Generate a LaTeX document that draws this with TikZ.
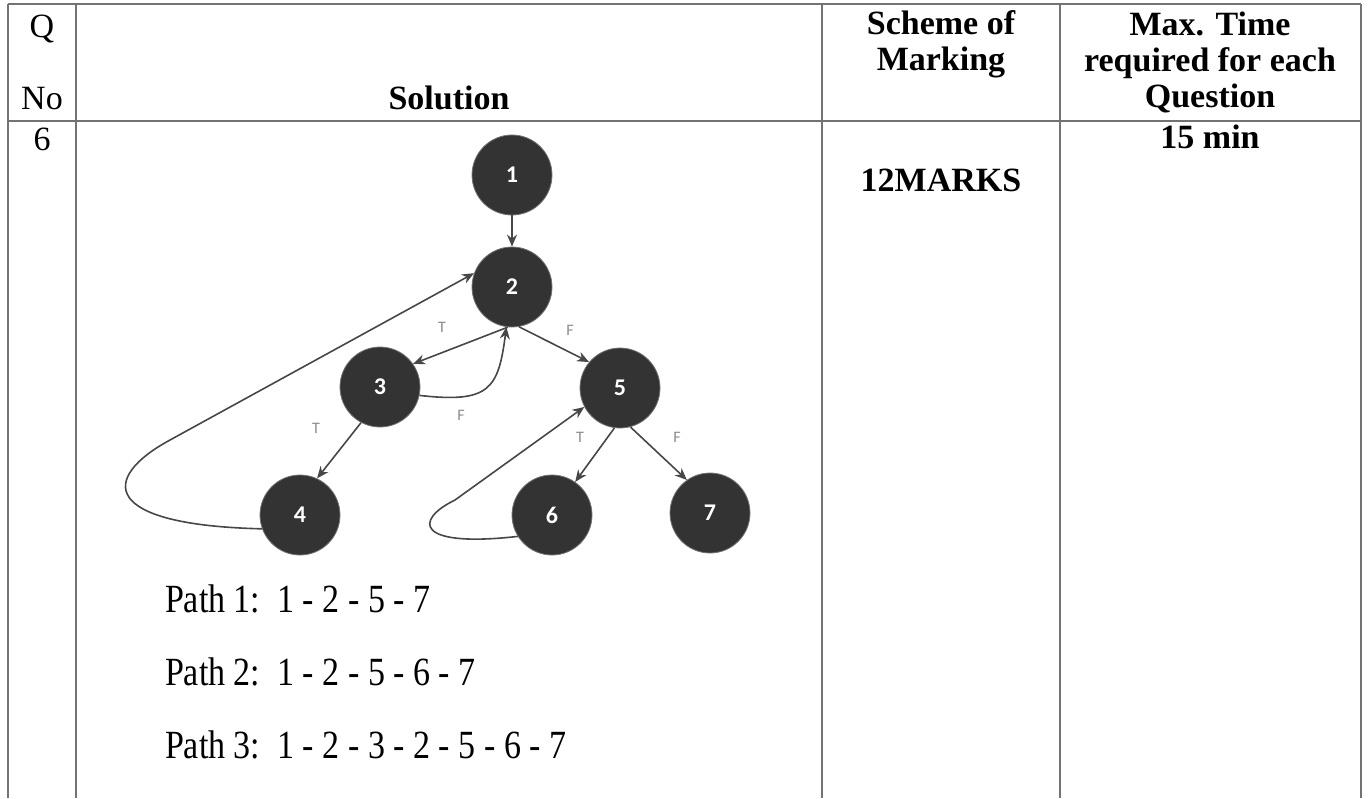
\documentclass[tikz,border=0pt]{standalone}
\usepackage{fontspec}
\setmainfont{Liberation Serif}
\newfontfamily\narrowserif[FakeStretch=0.85]{Liberation Serif}
\newfontfamily\calibri{Carlito}
\usetikzlibrary{arrows.meta}
\tikzset{
  vertex/.style={circle,fill=black!80,draw=black!55,minimum size=40pt,inner sep=0pt,
    text=white,font=\calibri\bfseries\fontsize{12}{12}\selectfont},
  flow/.style={draw=black!72,line width=0.8pt,-{Stealth[length=6pt,width=5pt]}},
  branch/.style={text=black!45,font=\calibri\fontsize{8}{8}\selectfont},
  rule/.style={draw=black!55,line width=0.6pt},
  head/.style={align=center,font=\bfseries\fontsize{17}{18}\selectfont},
  pathtext/.style={anchor=base west,font=\narrowserif\fontsize{20}{24}\selectfont},
}
\begin{document}
\begin{tikzpicture}[x=0.5pt,y=-0.5pt]
  \useasboundingbox (0,0) rectangle (1368,798);
  \draw[rule] (8,4) -- (1361,4);
  \draw[rule] (8,121) -- (1361,121);
  \foreach \x in {8,76,822,1060,1361}{\draw[rule] (\x,4) -- (\x,798);}
  \node[align=center,font=\fontsize{17}{36}\selectfont] (qno) at (42,62) {Q\\No};
  \node[head] (sol) at (449,98) {Solution};
  \node[head] (scheme) at (941,44) {Scheme of\\Marking};
  \node[head] (maxtime) at (1210,62) {Max. Time\\required for each\\Question};
  \node[font=\fontsize{17}{20}\selectfont] (qnum) at (42,139) {6};
  \node[head] (marks) at (941,180) {12MARKS};
  \node[head] (time) at (1210,137) {15 min};

  \node[vertex] (n1) at (512,175) {1};
  \node[vertex] (n2) at (512,287) {2};
  \node[vertex] (n3) at (380,387) {3};
  \node[vertex] (n5) at (620,388) {5};
  \node[vertex] (n4) at (300,515) {4};
  \node[vertex] (n6) at (552,515) {6};
  \node[vertex] (n7) at (710,513) {7};

  \draw[flow] (n1) -- (n2);
  \draw[flow] (n2.-96) -- (n3.35);
  \draw[flow] (n2.-80) -- (n5.140);
  \draw[flow] (n3.-12) .. controls +(70,8) and +(-8,62) .. (n2.-98);
  \draw[flow] (n3.-118) -- (n4.65);
  \draw[flow] (n4.200) .. controls (100,525) and (100,478) .. (170,440) -- (n2.160);
  \draw[flow] (n5.-98) -- (n6.55);
  \draw[flow] (n5.-75) -- (n7.125);
  \draw[flow] (n6.212) .. controls (415,548) and (414,520) .. (455,500) -- (n5.208);

  \node[branch] (t23) at (442,327) {T};
  \node[branch] (f25) at (570,330) {F};
  \node[branch] (f32) at (461,415) {F};
  \node[branch] (t34) at (316,428) {T};
  \node[branch] (t56) at (580,437) {T};
  \node[branch] (f57) at (677,437) {F};

  \node[pathtext] (path1) at (158,612) {Path 1:\ \ 1 - 2 - 5 - 7};
  \node[pathtext] (path2) at (158,685) {Path 2:\ \ 1 - 2 - 5 - 6 - 7};
  \node[pathtext] (path3) at (158,758) {Path 3:\ \ 1 - 2 - 3 - 2 - 5 - 6 - 7};
\end{tikzpicture}
\end{document}
